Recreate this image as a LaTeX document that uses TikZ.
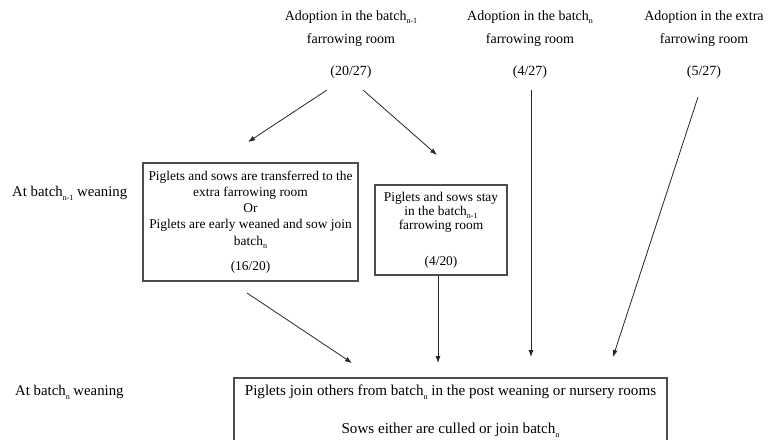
\documentclass[tikz,border=0pt]{standalone}
\usepackage{fontspec}
\setmainfont{Liberation Serif}
\usetikzlibrary{arrows.meta}
\newcommand{\lowsub}[1]{\raisebox{-0.55ex}{\fontsize{8}{8}\selectfont #1}}
\tikzset{
  lbl/.style={align=center, inner sep=0pt, font=\fontsize{14}{23}\selectfont},
  side/.style={anchor=west, inner sep=0pt, font=\fontsize{14.8}{17}\selectfont},
  boxa/.style={draw=black!70, line width=1.2pt, align=center, inner sep=0pt, font=\fontsize{13.4}{16.3}\selectfont},
  arr/.style={draw=black!85, line width=0.8pt, -{Latex[length=7pt,width=5pt]}}
}
\begin{document}
\begin{tikzpicture}[x=1pt,y=-1pt]
\clip (0,0) rectangle (775,439);
\useasboundingbox (0,0) rectangle (775,439);
\fill[white] (0,0) rectangle (775,439);

% top labels
\node[lbl] (l1) at (351,44.5) {Adoption in the batch\lowsub{n-1}\\farrowing room\\[9pt](20/27)};
\node[lbl] (l2) at (530,44.5) {Adoption in the batch\lowsub{n}\\farrowing room\\[9pt](4/27)};
\node[lbl] (l3) at (704,44.5) {Adoption in the extra\\farrowing room\\[9pt](5/27)};

% side labels
\node[side] (s1) at (12,193) {At batch\lowsub{n-1} weaning};
\node[side] (s2) at (15,392) {At batch\lowsub{n} weaning};

% boxes
\node[boxa, minimum width=215pt, minimum height=118pt] (ba) at (250.5,222)
  {Piglets and sows are transferred to the\\extra farrowing room\\Or\\Piglets are early weaned and sow join\\batch\lowsub{n}\\[9pt](16/20)};
\node[boxa, minimum width=132pt, minimum height=90pt, font=\fontsize{13.4}{14.3}\selectfont] (bb) at (441,230)
  {Piglets and sows stay\\in the batch\lowsub{n-1}\\farrowing room\\[21pt](4/20)};
\node[boxa, minimum width=433pt, minimum height=66pt, font=\fontsize{15.1}{18}\selectfont] (bc) at (450.5,411)
  {Piglets join others from batch\lowsub{n} in the post weaning or nursery rooms\\[20pt]Sows either are culled or join batch\lowsub{n}};

% connector end points
\coordinate (a1s) at (327,90);
\coordinate (a1e) at (248,142);
\coordinate (a2s) at (363,90);
\coordinate (a2e) at (437,155);
\coordinate (a3s) at (247,293);
\coordinate (a3e) at (352,363);
\coordinate (a4e) at (438,363);
\coordinate (a5s) at (531,90);
\coordinate (a5e) at (531,357);
\coordinate (a6s) at (698,97);
\coordinate (a6e) at (613,357);

\draw[arr] (a1s) -- (a1e);
\draw[arr] (a2s) -- (a2e);
\draw[arr] (a3s) -- (a3e);
\draw[arr] (bb.south -| a4e) -- (a4e);
\draw[arr] (a5s) -- (a5e);
\draw[arr] (a6s) -- (a6e);
\end{tikzpicture}
\end{document}
